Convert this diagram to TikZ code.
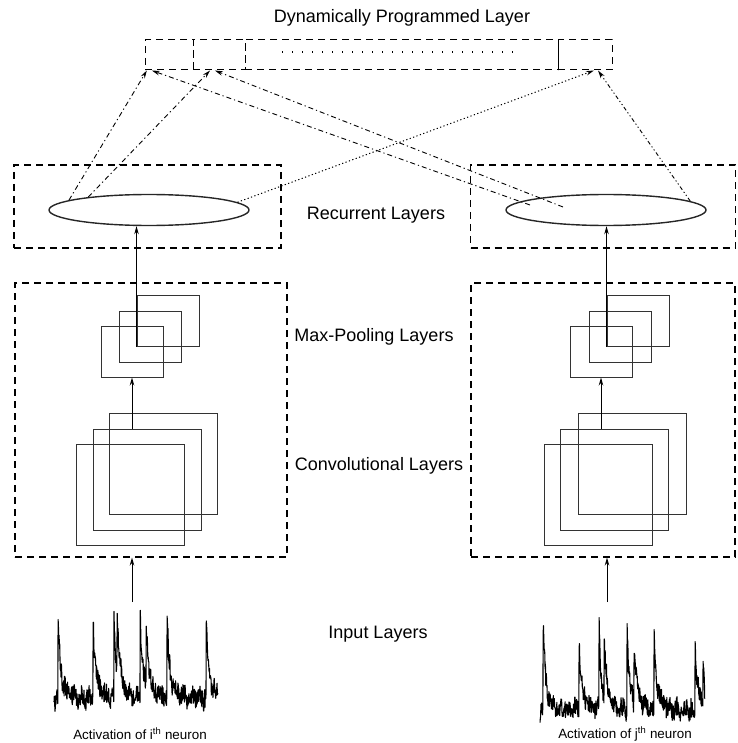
\documentclass[tikz,border=0pt]{standalone}
\usepackage{fontspec}
\setmainfont{Liberation Sans}
\usetikzlibrary{positioning,shapes.geometric,arrows.meta}

\tikzset{
  layerbox/.style={draw, dash pattern=on 7pt off 5pt, line width=1.1pt, inner sep=0pt},
  dpcell/.style={draw, dash pattern=on 7pt off 5pt, line width=1pt, minimum height=30pt, inner sep=0pt},
  recnode/.style={ellipse, draw=black!85, line width=1.4pt, minimum width=200pt, minimum height=31pt, inner sep=0pt},
  fmap/.style={draw=black!80, line width=1pt, inner sep=0pt},
  pool/.style={fmap, minimum width=62pt, minimum height=51pt},
  conv/.style={fmap, minimum width=108pt, minimum height=101pt},
  lab/.style={font=\fontsize{18}{21}\selectfont},
  actlab/.style={font=\fontsize{13.4}{15}\selectfont},
  flow/.style={->, line width=1pt},
  dashdot/.style={->, line width=.9pt, dash pattern=on 5pt off 3pt on 1.2pt off 3pt},
  dashdotdot/.style={->, line width=.9pt, dash pattern=on 4pt off 2.5pt on 1.2pt off 2.5pt on 1.2pt off 2.5pt},
  dotline/.style={->, line width=1pt, dash pattern=on 1.2pt off 2.4pt},
  trace/.style={line width=1.1pt, line join=round},
  declare function={spk(\t)=(\t>=0)*(0.5*exp(-abs(\t)/1.5)+0.5*exp(-abs(\t)/4.5));}
}

\begin{document}
\begin{tikzpicture}[x=1pt,y=-1pt,>={Stealth[length=8pt,width=4.5pt]}]
  \useasboundingbox (0,0) rectangle (737,743);

  % dynamically programmed layer
  \node[lab] (tDP) at (402,18) {Dynamically Programmed Layer};
  \node[dpcell,minimum width=48pt] (dp1) at (169,55) {};
  \node[dpcell,minimum width=52pt] (dp2) at (219,55) {};
  \node[dpcell,minimum width=313pt] (dp3) at (401.5,55) {};
  \node[dpcell,minimum width=54pt] (dp4) at (585,55) {};
  \draw[line width=1.4pt,dash pattern=on 1.4pt off 8.6pt] (282,52) -- (520,52);

  % recurrent layers
  \node[layerbox,minimum width=267pt,minimum height=83pt] (boxRecL) at (147.5,206.5) {};
  \node[layerbox,minimum width=265pt,minimum height=83pt] (boxRecR) at (603,206.5) {};
  \node[recnode] (recL) at (149,210) {};
  \node[recnode] (recR) at (606,210) {};
  \node[lab] (labRec) at (376,215) {Recurrent Layers};

  % cnn part
  \node[layerbox,minimum width=272pt,minimum height=274pt] (cnnL) at (151,420) {};
  \node[layerbox,minimum width=264pt,minimum height=274pt] (cnnR) at (603,420) {};
  \node[lab] (labPool) at (374,337) {Max-Pooling Layers};
  \node[lab] (labConv) at (379,466) {Convolutional Layers};
  \node[lab] (labIn) at (378,634) {Input Layers};

  \node[pool] (poolL1) at (168,320.5) {};
  \node[pool] (poolL2) at (150,336.5) {};
  \node[pool] (poolL3) at (132,351.5) {};
  \node[conv] (convL1) at (163,463.5) {};
  \node[conv] (convL2) at (147,479.5) {};
  \node[conv] (convL3) at (130,494.5) {};

  \node[pool] (poolR1) at (638,320.5) {};
  \node[pool] (poolR2) at (620,336.5) {};
  \node[pool] (poolR3) at (601,351.5) {};
  \node[conv] (convR1) at (632,463.5) {};
  \node[conv] (convR2) at (614,479.5) {};
  \node[conv] (convR3) at (598,494.5) {};

  % inputs
  \coordinate (inL) at (132,602);
  \coordinate (inR) at (607,602);
  \pgfmathsetseed{7}
  \draw[trace] plot[domain=54:218,samples=520] (\x,{702-88*spk(\x-58)-90*spk(\x-93)-84*spk(\x-114)-72*spk(\x-117)
    -94*spk(\x-140)-72*spk(\x-146)-88*spk(\x-167)-90*spk(\x-206)-7*abs(sin(\x*23))+10*rand});
  \draw[trace] plot[domain=540:705,samples=520] (\x,{714-92*spk(\x-543)-75*spk(\x-579)-86*spk(\x-599)-64*spk(\x-604)
    -83*spk(\x-627)-64*spk(\x-634)-87*spk(\x-654)-76*spk(\x-695)-40*spk(\x-703)-7*abs(sin(\x*23))+10*rand});
  \node[actlab] (actL) at (140,734) {Activation of i\textsuperscript{th} neuron};
  \node[actlab] (actR) at (625,734) {Activation of j\textsuperscript{th} neuron};

  % flow up
  \draw[flow] (inL) -- (inL |- cnnL.south);
  \draw[flow] (inR) -- (inR |- cnnR.south);
  \draw[flow] (poolL3.south |- convL2.north) -- (poolL3.south);
  \draw[flow] (poolR3.south |- convR2.north) -- (poolR3.south);
  \draw[flow] (poolL1.south west) -- (poolL1.south west |- recL.south);
  \draw[flow] (poolR1.south west) -- (poolR1.south west |- recR.south);

  % links to the programmed layer
  \coordinate (r1) at (530,205);
  \coordinate (r2) at (563,207);
  \draw[dashdot] (recL.173) -- (dp1.215);
  \draw[dashdot] (recL.168) -- (dp2.240);
  \draw[dotline] (recL.5) -- (dp4.300);
  \draw[dashdot] (r1) -- (dp1.222);
  \draw[dashdot] (r2) -- (dp2.255);
  \draw[dashdotdot] (recR.6) -- (dp4.310);
\end{tikzpicture}
\end{document}
